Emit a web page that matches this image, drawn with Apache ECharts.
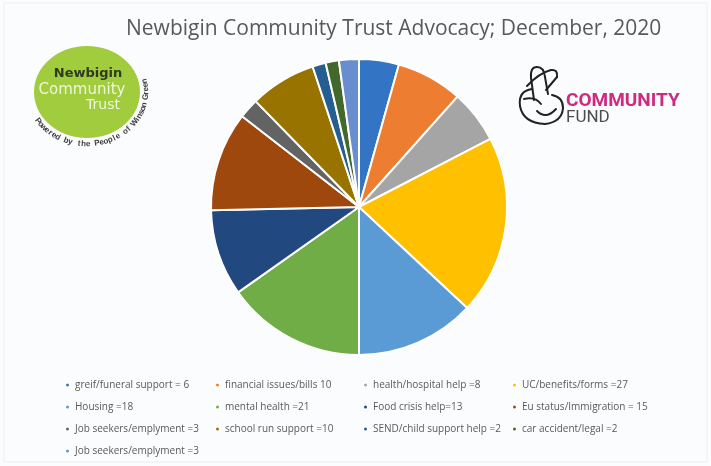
<!DOCTYPE html>
<html>
<head>
<meta charset="utf-8">
<script src="https://cdn.jsdelivr.net/npm/echarts@6/dist/echarts.min.js"></script>
<style>
html,body{margin:0;padding:0;background:#fbfcfd;}
#chart{width:711px;height:466px;}
</style>
</head>
<body>
<div id="chart"></div>
<script>
const titleText = "Newbigin Community Trust Advocacy; December, 2020";
const categories = [
  "greif/funeral support = 6",
  "financial issues/bills 10",
  "health/hospital help =8",
  "UC/benefits/forms =27",
  "Housing =18",
  "mental health =21",
  "Food crisis help=13",
  "Eu status/Immigration = 15",
  "Job seekers/emplyment =3",
  "school run support =10",
  "SEND/child support help =2",
  "car accident/legal =2",
  "Job seekers/emplyment =3 "
];
const values = [6, 10, 8, 27, 18, 21, 13, 15, 3, 10, 2, 2, 3];
const colors = ["#3474c4","#ed7d31","#a5a5a5","#ffc000","#5b9bd5","#70ad47",
                "#21487f","#9e480e","#636363","#997300","#255e91","#43682b","#698ed0"];
const logoArcText = "Powered by the People of Winson Green";

const chart = echarts.init(document.getElementById('chart'), null, {renderer:'canvas'});

const legendCols = [[0,4,8,12],[1,5,9],[2,6,10],[3,7,11]];
const legendLefts = [64, 214, 362, 511];
const legends = legendCols.map((col, k) => ({
  orient: 'vertical',
  left: legendLefts[k],
  top: 378,
  padding: 0,
  itemWidth: 5,
  itemHeight: 5,
  itemGap: 8,
  icon: 'circle',
  selectedMode: false,
  data: col.map(i => categories[i]),
  textStyle: {fontFamily: 'Open Sans', fontSize: 10, color: '#595959', lineHeight: 14}
}));

// logo graphics
const gcx = 87, gcy = 92, grx = 53, gry = 46;
const arcEls = [];
const a0 = 146, a1 = -12;
const n = logoArcText.length;
for (let i = 0; i < n; i++) {
  const th = a0 + (a1 - a0) * i / (n - 1);
  const r = th * Math.PI / 180;
  arcEls.push({
    type: 'text',
    x: gcx + (grx + 6) * Math.cos(r),
    y: gcy + (gry + 6) * Math.sin(r),
    rotation: (90 - th) * Math.PI / 180,
    silent: true,
    style: {text: logoArcText[i], fontSize: 8, fontWeight: 'bold', fontFamily: 'Liberation Sans',
            fill: '#3f3f3f', align: 'center', verticalAlign: 'middle'}
  });
}

// hand drawing strokes: segments as [x0,y0, (cx,cy,) x1,y1]
const handStrokes = [
  [[534,100,531,78],[531,78,530,67,537,67],[537,67,544,67,545,77],[545,77,548,94]],
  [[527,86,539,73,551,70],[551,70,558,69,557,77],[557,77,546,90]],
  [[532,89,518,91,520,106],[520,106,523,123,545,124],[545,124,562,122,563,108],[563,108,563,97,552,95]],
  [[537,111,546,120,556,109]],
  [[524,99,535,96,541,104]]
];
const handEls = [];
handStrokes.forEach(st => st.forEach(s => {
  const style = {fill:'none', stroke:'#222', lineWidth:2, lineCap:'round'};
  if (s.length === 4) {
    handEls.push({type:'line', silent:true, shape:{x1:s[0],y1:s[1],x2:s[2],y2:s[3]}, style});
  } else {
    handEls.push({type:'bezierCurve', silent:true, shape:{x1:s[0],y1:s[1],cpx1:s[2],cpy1:s[3],x2:s[4],y2:s[5]}, style});
  }
}));

chart.setOption({
  animation: false,
  backgroundColor: '#fbfcfd',
  color: colors,
  title: {
    text: titleText,
    left: 126,
    top: 19,
    padding: 0,
    textStyle: {fontFamily: 'Open Sans', fontSize: 21, fontWeight: 'normal', color: '#595959'}
  },
  legend: legends,
  graphic: [
    {type:'rect', silent:true, shape:{x:4, y:3, width:703, height:459}, style:{fill:'none', stroke:'#eceef0', lineWidth:1}},
    {type:'ellipse', silent:true, shape:{cx:gcx, cy:gcy, rx:grx, ry:gry}, style:{fill:'#a0cc3e'}},
    {type:'text', silent:true, x:88, y:74, style:{text:'Newbigin', fontSize:13, fontWeight:'bold', fontFamily:'DejaVu Sans', fill:'#2f3a1f', align:'center', verticalAlign:'middle'}},
    {type:'text', silent:true, x:82, y:90, style:{text:'Community', fontSize:15, fontFamily:'DejaVu Sans', fill:'#eef6dc', align:'center', verticalAlign:'middle'}},
    {type:'text', silent:true, x:103, y:105, style:{text:'Trust', fontSize:14, fontFamily:'DejaVu Sans', fill:'#eef6dc', align:'center', verticalAlign:'middle'}},
    ...arcEls,
    ...handEls,
    {type:'text', silent:true, x:566, y:101, style:{text:'COMMUNITY', fontSize:19, fontWeight:'bold', fontFamily:'Roboto', fill:'#cf2a82', align:'left', verticalAlign:'middle'}},
    {type:'text', silent:true, x:566, y:118, style:{text:'FUND', fontSize:17, fontFamily:'Roboto', fill:'#4d4d4d', align:'left', verticalAlign:'middle'}}
  ],
  series: [{
    type: 'pie',
    center: [359, 207],
    radius: [0, 148],
    startAngle: 90,
    clockwise: true,
    label: {show: false},
    labelLine: {show: false},
    emphasis: {disabled: true},
    itemStyle: {borderColor: '#ffffff', borderWidth: 2},
    data: categories.map((c, i) => ({name: c, value: values[i]}))
  }]
});
</script>
</body>
</html>
